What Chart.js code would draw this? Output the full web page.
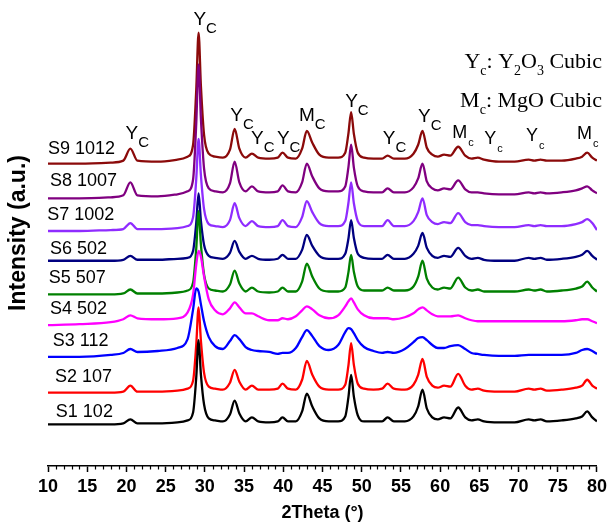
<!DOCTYPE html>
<html>
<head>
<meta charset="utf-8">
<title>XRD patterns S1-S9</title>
<script src="https://cdn.jsdelivr.net/npm/chart.js@4.4.1/dist/chart.umd.min.js"></script>
<style>
  body { margin: 0; background: #fff; }
  #wrap { width: 611px; height: 527px; }
</style>
</head>
<body>
<div id="wrap"><canvas id="xrd" width="611" height="527"></canvas></div>
<script>
// 2Theta grid (degrees) shared by all patterns
const twoTheta = [
  10, 14, 18, 19.6, 20.5, 21.4, 24, 26.5, 27.8, 28.5,
  28.9, 29.2, 29.5, 29.9, 30.5, 31.3, 32.3, 33.2, 33.8, 34.4,
  35.2, 36.0, 36.8, 38.2, 39.3, 39.9, 40.6, 41.6, 42.4, 43.0,
  43.7, 44.6, 45.8, 47.0, 47.9, 48.3, 48.65, 49.0, 49.5, 50.3,
  51.5, 52.6, 53.3, 54.1, 55.5, 56.6, 57.2, 57.75, 58.3, 59.0,
  59.7, 60.5, 61.3, 62.3, 63.2, 64.0, 64.8, 65.6, 67.5, 69.5,
  71.3, 72.0, 72.8, 73.6, 75.5, 77.3, 78.1, 78.75, 79.4, 80
];

const sampleNames = ["S1 102", "S2 107", "S3 112", "S4 502", "S5 507", "S6 502", "S7 1002", "S8 1007", "S9 1012"];
const sampleColors = ["#000000", "#ff0000", "#0000ff", "#ff00ff", "#008000", "#000080", "#8f2cff", "#800080", "#8b0a0a"];

// vertical stacking offset of each pattern (a.u.)
const stackOffset = [42, 74, 108, 143, 173, 207, 237, 270, 305];

// intensity above each pattern's baseline (a.u.)
const s1 = [
  0, 0, 0, 1, 5, 1, 1, 2, 4, 12,
  47, 85, 50, 20, 6, 4, 3, 10, 24, 11,
  3, 7, 3, 2, 3, 7, 3, 3, 13, 31,
  18, 6, 3, 3, 8, 27, 50, 28, 9, 3,
  3, 3, 7, 3, 3, 8, 18, 35, 16, 7,
  5, 7, 6, 17, 7, 4, 5, 3, 2, 2,
  5, 4, 5, 3, 4, 6, 8, 13, 7, 3
];
const s2 = [
  0, 0, 0, 1, 7, 1, 1, 2, 4, 12,
  48, 86, 52, 20, 6, 4, 3, 10, 23, 11,
  3, 7, 3, 3, 4, 9, 4, 3, 13, 32,
  18, 6, 3, 3, 8, 27, 50, 28, 9, 4,
  3, 4, 9, 4, 3, 8, 18, 34, 16, 7,
  5, 7, 6, 19, 7, 3, 4, 2, 1, 1,
  4, 3, 4, 2, 3, 5, 7, 13, 7, 4
];
const s3 = [
  2, 2, 4, 6, 10, 7, 8, 11, 20, 50,
  71, 68, 55, 38, 22, 13, 10, 18, 24, 20,
  12, 9, 8, 7, 5, 6, 6, 11, 22, 29,
  23, 13, 9, 14, 27, 31, 30, 26, 19, 12,
  8, 6, 7, 6, 10, 17, 21, 22, 19, 14,
  11, 11, 13, 14, 10, 6, 5, 4, 3, 3,
  4, 4, 4, 4, 4, 6, 9, 10, 8, 5
];
const s4 = [
  -1, 0, 2, 5, 9, 6, 5, 6, 12, 30,
  60, 74, 68, 48, 25, 14, 10, 16, 22, 17,
  11, 11, 8, 4, 4, 6, 5, 8, 14, 18,
  15, 9, 6, 9, 18, 23, 26, 22, 15, 9,
  6, 6, 6, 5, 7, 11, 15, 17, 14, 10,
  8, 8, 8, 9, 6, 4, 3, 3, 3, 3,
  3, 3, 3, 3, 3, 4, 5, 5, 3, 1
];
const s5 = [
  0, 0, 0, 1, 5, 1, 1, 2, 4, 12,
  46, 84, 50, 20, 6, 4, 3, 10, 24, 11,
  3, 7, 3, 2, 3, 7, 3, 3, 13, 31,
  18, 6, 3, 3, 7, 22, 40, 23, 8, 4,
  4, 4, 7, 4, 4, 8, 18, 34, 16, 7,
  5, 7, 6, 17, 7, 4, 5, 3, 3, 3,
  5, 4, 5, 3, 4, 6, 8, 13, 7, 3
];
const s6 = [
  0, 0, 0, 1, 5, 1, 1, 2, 3, 10,
  38, 68, 40, 16, 5, 3, 2, 8, 20, 9,
  2, 5, 2, 1, 2, 6, 2, 2, 11, 26,
  15, 5, 2, 2, 7, 22, 41, 23, 7, 3,
  2, 2, 6, 2, 2, 7, 15, 28, 13, 5,
  3, 5, 4, 13, 5, 2, 3, 1, 0, 0,
  3, 2, 3, 1, 2, 4, 6, 10, 5, 1
];
const s7 = [
  0, 0, 1, 2, 8, 2, 2, 3, 5, 14,
  52, 93, 56, 22, 7, 5, 4, 11, 28, 13,
  5, 10, 5, 4, 5, 11, 5, 4, 14, 30,
  19, 8, 5, 5, 10, 28, 49, 28, 10, 5,
  5, 5, 11, 5, 5, 10, 19, 33, 16, 9,
  7, 9, 8, 18, 9, 6, 6, 5, 4, 4,
  6, 5, 6, 5, 5, 7, 9, 12, 8, 1
];
const s8 = [
  0, 0, 1, 3, 16, 3, 2, 4, 7, 19,
  75, 135, 80, 30, 10, 7, 6, 15, 37, 16,
  7, 12, 7, 6, 7, 13, 7, 6, 16, 35,
  22, 10, 7, 7, 12, 31, 54, 31, 12, 7,
  6, 6, 10, 6, 6, 11, 20, 35, 17, 10,
  8, 10, 9, 18, 9, 6, 6, 5, 4, 4,
  6, 5, 6, 5, 6, 8, 10, 12, 8, 5
];
const s9 = [
  0, 0, 1, 3, 15, 3, 2, 4, 7, 19,
  74, 132, 78, 29, 10, 7, 6, 14, 35, 15,
  6, 10, 6, 5, 6, 11, 6, 5, 15, 33,
  21, 9, 6, 6, 11, 30, 52, 30, 11, 6,
  5, 5, 8, 5, 5, 10, 19, 33, 16, 9,
  7, 9, 8, 17, 8, 5, 6, 4, 2, 2,
  4, 3, 4, 3, 3, 5, 7, 11, 6, 3
];
const intensities = [s1, s2, s3, s4, s5, s6, s7, s8, s9];

// where each sample name sits: [2Theta, a.u.]
const nameAt = [[11.0, 54], [10.9, 90], [10.6, 126], [10.25, 158], [10.1, 190], [10.25, 219], [9.9, 253], [10.25, 287], [10.0, 320]];

// phase markers over the peaks
const peakMarks = [
  { deg: 20.7, h: 335, main: "Y", sub: "C" },
  { deg: 29.35, h: 450, main: "Y", sub: "C" },
  { deg: 34.05, h: 353, main: "Y", sub: "C" },
  { deg: 36.7, h: 330, main: "Y", sub: "C" },
  { deg: 40.0, h: 330, main: "Y", sub: "C" },
  { deg: 43.0, h: 353, main: "M", sub: "C" },
  { deg: 48.7, h: 367, main: "Y", sub: "C" },
  { deg: 53.5, h: 330, main: "Y", sub: "C" },
  { deg: 58.0, h: 352, main: "Y", sub: "C" },
  { deg: 62.5, h: 336, main: "M", sub: "c" },
  { deg: 66.4, h: 330, main: "Y", sub: "c" },
  { deg: 71.7, h: 333, main: "Y", sub: "c" },
  { deg: 78.4, h: 335, main: "M", sub: "c" }
];

const legendLines = [
  [["Y", 0], ["c", 1], [": Y", 0], ["2", 1], ["O", 0], ["3", 1], [" Cubic", 0]],
  [["M", 0], ["c", 1], [": MgO Cubic", 0]]
];

const SANS = "'Liberation Sans', Arial, sans-serif";
const SERIF = "'Liberation Serif', 'Times New Roman', serif";

const datasets = intensities.map((vals, i) => ({
  label: sampleNames[i],
  data: twoTheta.map((t, k) => ({ x: t, y: vals[k] + stackOffset[i] })),
  borderColor: sampleColors[i],
  borderWidth: 2.3,
  pointRadius: 0,
  fill: false,
  cubicInterpolationMode: "monotone"
}));

function drawRich(ctx, parts, right, baseY) {
  let total = 0;
  parts.forEach(([t, sub]) => {
    ctx.font = (sub ? "14px " : "22px ") + SERIF;
    total += ctx.measureText(t).width;
  });
  let xpos = right - total;
  parts.forEach(([t, sub]) => {
    ctx.font = (sub ? "14px " : "22px ") + SERIF;
    ctx.fillText(t, xpos, baseY + (sub ? 7 : 0));
    xpos += ctx.measureText(t).width;
  });
}

const overlay = {
  id: "overlay",
  afterDraw(chart) {
    const { ctx, chartArea } = chart;
    const x = chart.scales.x, y = chart.scales.y;
    ctx.save();

    // minor ticks every degree
    ctx.strokeStyle = "#000";
    ctx.lineWidth = 1.2;
    for (let v = 10; v <= 80; v++) {
      if (v % 5 === 0) continue;
      const px = Math.round(x.getPixelForValue(v)) + 0.5;
      ctx.beginPath();
      ctx.moveTo(px, chartArea.bottom);
      ctx.lineTo(px, chartArea.bottom + 3.5);
      ctx.stroke();
    }

    // sample names
    ctx.fillStyle = "#000";
    ctx.textBaseline = "middle";
    ctx.textAlign = "left";
    ctx.font = "18px " + SANS;
    sampleNames.forEach((name, i) => {
      ctx.fillText(name, x.getPixelForValue(nameAt[i][0]), y.getPixelForValue(nameAt[i][1]));
    });

    // peak markers
    peakMarks.forEach(m => {
      const px = x.getPixelForValue(m.deg);
      const py = y.getPixelForValue(m.h);
      const small = m.sub === "c";
      ctx.font = (small ? "18px " : "19px ") + SANS;
      ctx.textAlign = "center";
      ctx.fillText(m.main, px, py);
      const w = ctx.measureText(m.main).width;
      ctx.font = (small ? "11px " : "15px ") + SANS;
      ctx.textAlign = "left";
      ctx.fillText(m.sub, px + w / 2 + (small ? 1 : 0), py + (small ? 10 : 9));
    });

    // phase legend, top right
    ctx.textBaseline = "alphabetic";
    drawRich(ctx, legendLines[0], 602, 68);
    drawRich(ctx, legendLines[1], 602, 107);

    ctx.restore();
  }
};

new Chart(document.getElementById("xrd"), {
  type: "line",
  data: { datasets },
  plugins: [overlay],
  options: {
    responsive: false,
    animation: false,
    devicePixelRatio: 1,
    layout: { padding: { left: 0, right: 13, top: 0, bottom: 0 } },
    plugins: { legend: { display: false }, tooltip: { enabled: false } },
    scales: {
      x: {
        type: "linear",
        min: 10,
        max: 80,
        ticks: {
          stepSize: 5,
          padding: 4,
          color: "#000",
          font: { family: SANS, size: 18, weight: "bold" }
        },
        grid: { drawOnChartArea: false, drawTicks: true, tickLength: 6, tickColor: "#000", tickWidth: 1.5 },
        border: { display: true, color: "#000", width: 1.5 },
        title: {
          display: true,
          text: "2Theta (°)",
          color: "#000",
          font: { family: SANS, size: 18, weight: "bold" },
          padding: { top: 0.6, bottom: 3.2 }
        }
      },
      y: {
        type: "linear",
        min: 0,
        max: 470,
        ticks: { display: false },
        grid: { display: false, drawTicks: false },
        border: { display: false },
        title: {
          display: true,
          text: "Intensity (a.u.)",
          color: "#000",
          font: { family: SANS, size: 23, weight: "bold" },
          padding: { top: 5, bottom: 15.4 }
        }
      }
    }
  }
});
</script>
</body>
</html>
